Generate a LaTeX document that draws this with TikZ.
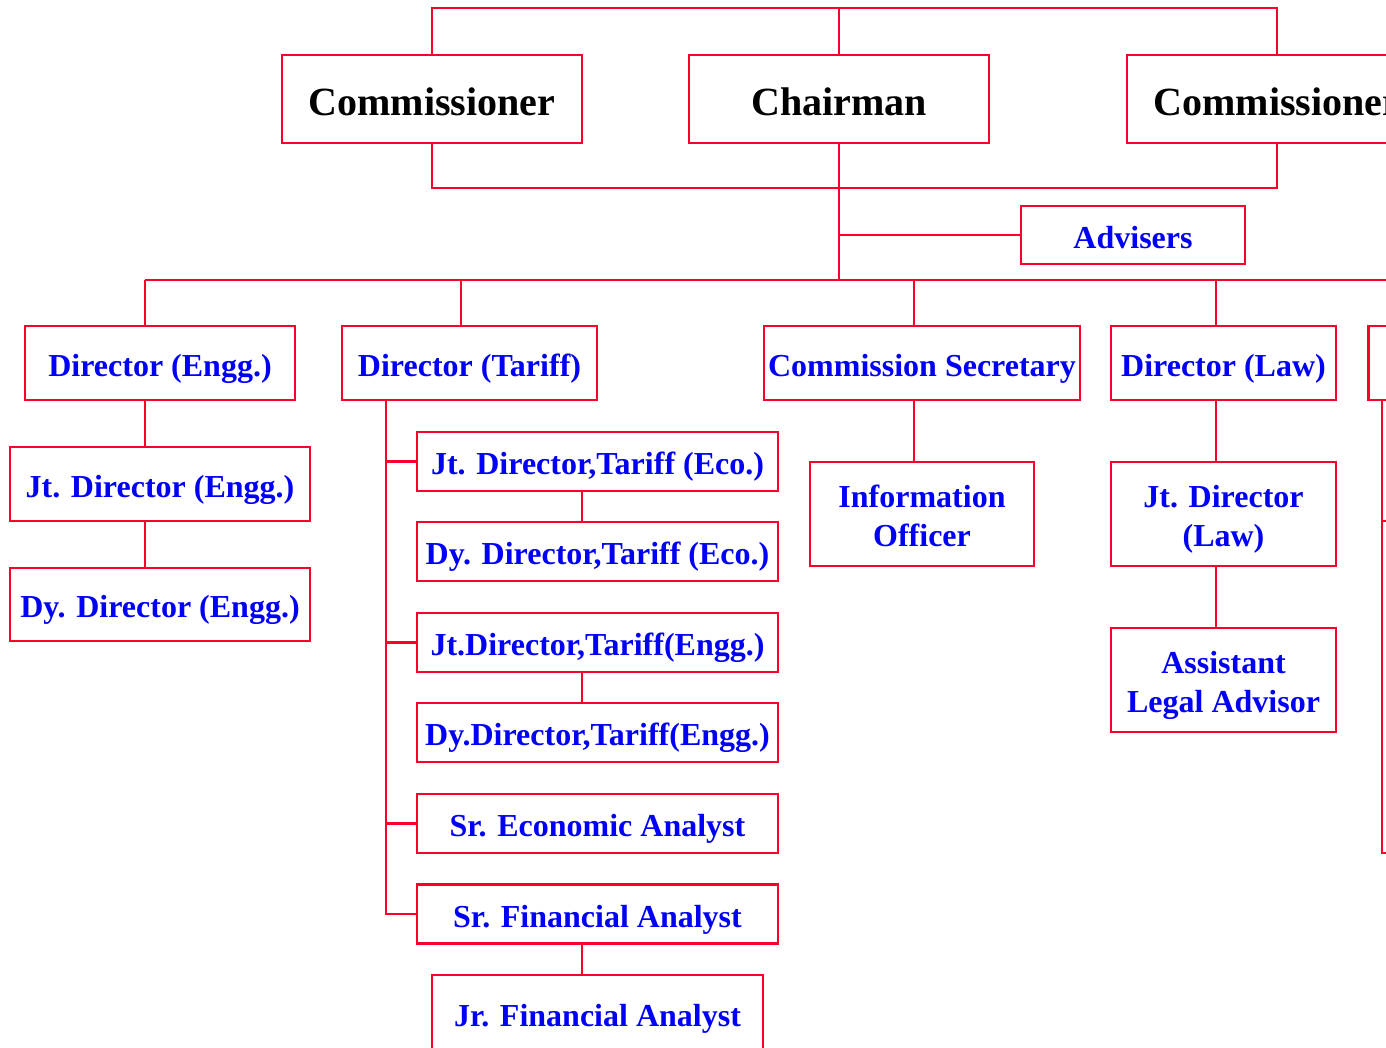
\documentclass[tikz,border=0pt]{standalone}
\usepackage{fontspec}
\setmainfont{Liberation Serif}
\definecolor{lred}{RGB}{250,0,45}
\definecolor{tblue}{RGB}{0,0,245}
\tikzset{
  conn/.style={draw=lred, line width=2.8pt},
  bbox/.style={draw=lred, line width=2.8pt, inner sep=0pt, align=center},
  topbox/.style={bbox, minimum width=300, minimum height=88, font=\fontsize{40}{44}\selectfont\bfseries, text=black, text height=32.5pt, text depth=0pt},
  bluebox/.style={bbox, font=\fontsize{32}{39}\selectfont\bfseries, text=tblue, text height=26pt, text depth=0pt},
  twoline/.style={bluebox, text height=65pt, text depth=0pt},
}
\begin{document}
\begin{tikzpicture}[x=1pt, y=-1pt]
\useasboundingbox (0,0) rectangle (1386,1047);
\clip (0,0) rectangle (1386,1047);
% top level
\node[topbox] (comA) at (432,99) {Commissioner};
\node[topbox] (chair) at (839,99) {Chairman};
\node[topbox] (comB) at (1277,99) {Commissioner};
\coordinate (top) at (0,8);
\coordinate (bot) at (0,188);
\coordinate (hbar) at (0,280);
\draw[conn] (comA.north) |- (comB.north |- top) -- (comB.north);
\draw[conn] (chair.north) -- (chair.north |- top);
\draw[conn] (comA.south) |- (comB.south |- bot) -- (comB.south);
\draw[conn] (chair.south) -- (chair.south |- hbar);
% advisers
\node[bluebox, minimum width=224, minimum height=58] (adv) at (1133,235) {Advisers};
\draw[conn] (chair.south |- adv.west) -- (adv.west);
% main horizontal bar
\coordinate (hl) at (145,280);
\coordinate (hr) at (1400,280);
\draw[conn] (hl) -- (hr);
% level 2
\node[bluebox, minimum width=270, minimum height=74] (deng) at (160,363) {Director (Engg.)};
\node[bluebox, minimum width=255, minimum height=74] (dtar) at (469.5,363) {Director (Tariff)};
\node[bluebox, minimum width=316, minimum height=74] (csec) at (922,363) {Commission Secretary};
\node[bluebox, minimum width=225, minimum height=74] (dlaw) at (1223.5,363) {Director (Law)};
\node[bluebox, minimum width=225, minimum height=74] (rbox) at (1481,363) {};
\coordinate (xe) at (145,0);
\coordinate (xt) at (461,0);
\coordinate (xc) at (914,0);
\coordinate (xl) at (1216,0);
\draw[conn] (xe |- hbar) -- (xe |- deng.north);
\draw[conn] (xt |- hbar) -- (xt |- dtar.north);
\draw[conn] (xc |- hbar) -- (xc |- csec.north);
\draw[conn] (xl |- hbar) -- (xl |- dlaw.north);
% engineering column
\node[bluebox, minimum width=300, minimum height=74] (jde) at (160,484) {Jt. Director (Engg.)};
\node[bluebox, minimum width=300, minimum height=73] (dde) at (160,604.5) {Dy. Director (Engg.)};
\draw[conn] (xe |- deng.south) -- (xe |- jde.north);
\draw[conn] (xe |- jde.south) -- (xe |- dde.north);
% tariff column
\tikzset{tbox/.style={bluebox, minimum width=361, minimum height=59}}
\node[tbox] (jte) at (597.5,461.5) {Jt. Director,Tariff (Eco.)};
\node[tbox] (dte) at (597.5,551.5) {Dy. Director,Tariff (Eco.)};
\node[tbox] (jtg) at (597.5,642.5) {Jt.Director,Tariff(Engg.)};
\node[tbox] (dtg) at (597.5,732.5) {Dy.Director,Tariff(Engg.)};
\node[tbox] (sea) at (597.5,823.5) {Sr. Economic Analyst};
\node[tbox] (sfa) at (597.5,914) {Sr. Financial Analyst};
\node[bluebox, minimum width=331, minimum height=76] (jfa) at (597.5,1013) {Jr. Financial Analyst};
\coordinate (sp) at (386,0);
\coordinate (tx) at (582,0);
\draw[conn] (sp |- dtar.south) |- (sfa.west);
\draw[conn] (sp |- jte.west) -- (jte.west);
\draw[conn] (sp |- jtg.west) -- (jtg.west);
\draw[conn] (sp |- sea.west) -- (sea.west);
\draw[conn] (tx |- jte.south) -- (tx |- dte.north);
\draw[conn] (tx |- jtg.south) -- (tx |- dtg.north);
\draw[conn] (tx |- sfa.south) -- (tx |- jfa.north);
% commission secretary column
\node[twoline, minimum width=224, minimum height=104] (info) at (922,514) {Information\\Officer};
\draw[conn] (xc |- csec.south) -- (xc |- info.north);
% law column
\node[twoline, minimum width=225, minimum height=104] (jdl) at (1223.5,514) {Jt. Director\\(Law)};
\node[twoline, minimum width=225, minimum height=104] (ala) at (1223.5,680) {Assistant\\Legal Advisor};
\draw[conn] (xl |- dlaw.south) -- (xl |- jdl.north);
\draw[conn] (xl |- jdl.south) -- (xl |- ala.north);
% right partial column
\coordinate (xr) at (1382,0);
\coordinate (rt1) at (1400,521);
\coordinate (rt2) at (1400,853);
\draw[conn] (xr |- rbox.south) |- (rt2);
\draw[conn] (xr |- rt1) -- (rt1);
\end{tikzpicture}
\end{document}
